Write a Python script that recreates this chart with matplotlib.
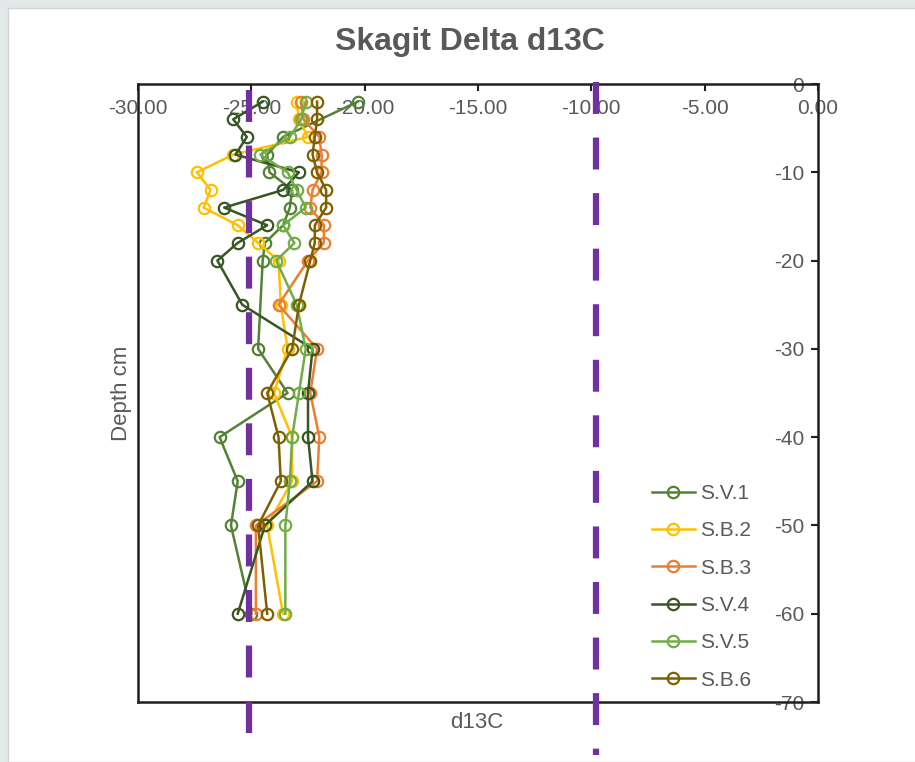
import matplotlib
matplotlib.use('Agg')
import matplotlib.pyplot as plt
from matplotlib.patches import Rectangle

plt.rcParams['font.family'] = ['Liberation Sans', 'DejaVu Sans']
plt.rcParams['lines.scale_dashes'] = False

# ---- data ----
depths = [-2, -4, -6, -8, -10, -12, -14, -16, -18, -20, -25, -30, -35, -40, -45, -50, -60]
sv1_depths = [-2, -6, -8, -10, -12, -14, -16, -18, -20, -30, -35, -40, -45, -50, -60]

sv1 = [-20.3, -23.6, -24.3, -24.2, -23.2, -23.3, -23.6, -24.4, -24.5, -24.7, -23.4, -26.4, -25.6, -25.9, -25.0]
sb2 = [-23.0, -22.9, -22.5, -25.8, -27.4, -26.8, -27.1, -25.6, -24.7, -23.8, -23.7, -23.4, -24.0, -23.2, -23.2, -24.3, -23.6]
sb3 = [-22.8, -22.7, -22.0, -21.9, -21.9, -22.3, -22.4, -21.8, -21.8, -22.5, -23.8, -22.1, -22.4, -22.0, -22.1, -24.8, -24.8]
sv4 = [-24.5, -25.8, -25.2, -25.7, -22.9, -23.6, -26.2, -24.3, -25.6, -26.5, -25.4, -22.3, -22.5, -22.5, -22.3, -24.4, -25.6]
sv5 = [-22.6, -22.8, -23.3, -24.6, -23.4, -23.0, -22.6, -23.6, -23.1, -23.9, -23.0, -22.6, -22.9, -23.2, -23.3, -23.5, -23.5]
sb6 = [-22.1, -22.1, -22.2, -22.3, -22.1, -21.7, -21.7, -22.2, -22.2, -22.4, -22.9, -23.2, -24.3, -23.8, -23.7, -24.7, -24.3]

series_names = ['S.V.1', 'S.B.2', 'S.B.3', 'S.V.4', 'S.V.5', 'S.B.6']
series_values = [sv1, sb2, sb3, sv4, sv5, sb6]
series_depths = [sv1_depths, depths, depths, depths, depths, depths]
series_colors = ['#548235', '#FFC000', '#ED7D31', '#375623', '#70AD47', '#7F6000']

x_ticks = [-30, -25, -20, -15, -10, -5, 0]
y_ticks = [0, -10, -20, -30, -40, -50, -60, -70]

ref_lines_x = [-25.1, -9.8]
ref_lines_top = [-0.7, 0.2]
ref_lines_bottom = [-74.3, -76.0]

TXT = '#595959'

fig = plt.figure(figsize=(9.15, 7.62), dpi=100)
fig.patch.set_facecolor('#E3E8E9')
fig.patches.append(Rectangle((8 / 915, 0), 1, 1 - 8 / 762, transform=fig.transFigure,
                             facecolor='white', edgecolor='#CFD5D6', lw=1, zorder=-5))

ax = fig.add_axes([138 / 915, 1 - 702 / 762, 680 / 915, 618 / 762])
ax.set_zorder(1)
ax.set_facecolor('none')

for name, vals, dep, col in zip(series_names, series_values, series_depths, series_colors):
    ax.plot(vals, dep, color=col, lw=1.8, marker='o', markersize=8.2,
            markerfacecolor='none', markeredgecolor=col, markeredgewidth=1.6,
            label=name, zorder=3)

ax.set_xlim(-30, 0)
ax.set_ylim(-70, 0)

ax.spines['left'].set_position(('data', 0))
ax.spines['bottom'].set_position(('data', 0))
ax.spines['right'].set_position(('data', -30))
ax.spines['top'].set_position(('data', -70))
for s in ax.spines.values():
    s.set_color('#1f1f1f')
    s.set_linewidth(1.8)
    s.set_zorder(4)

ax.set_xticks(x_ticks)
ax.set_xticklabels(['%.2f' % v for v in x_ticks])
ax.set_yticks(y_ticks)
ax.set_yticklabels(['%d' % v for v in y_ticks])
ax.tick_params(axis='x', direction='out', length=5, width=1.5, color='#1f1f1f',
               labelsize=15, labelcolor=TXT, pad=5.5)
ax.tick_params(axis='y', direction='out', length=5, width=1.5, color='#1f1f1f',
               labelsize=15, labelcolor=TXT, pad=5)

for x, yt, yb in zip(ref_lines_x, ref_lines_top, ref_lines_bottom):
    ax.plot([x, x], [yt, yb], color='#7030A0', lw=4.5, dashes=(23, 17),
            clip_on=False, zorder=6, solid_capstyle='butt', dash_capstyle='butt')

leg = fig.legend(loc='upper left', bbox_to_anchor=(652 / 915, 1 - 484 / 762),
                 frameon=False, fontsize=15, handlelength=2.05, handletextpad=0.25,
                 labelspacing=0.88, borderpad=0, borderaxespad=0)
leg.set_zorder(10)
for t in leg.get_texts():
    t.set_color(TXT)

fig.text(470 / 915, 1 - 42 / 762, 'Skagit Delta d13C', ha='center', va='center',
         fontsize=23, fontweight='bold', color=TXT)
fig.text(122 / 915, 1 - 393 / 762, 'Depth cm', ha='center', va='center',
         rotation=90, fontsize=16, color=TXT)
fig.text(477 / 915, 1 - 722 / 762, 'd13C', ha='center', va='center',
         fontsize=16, color=TXT)

fig.savefig('out.png', dpi=100, facecolor=fig.get_facecolor())
